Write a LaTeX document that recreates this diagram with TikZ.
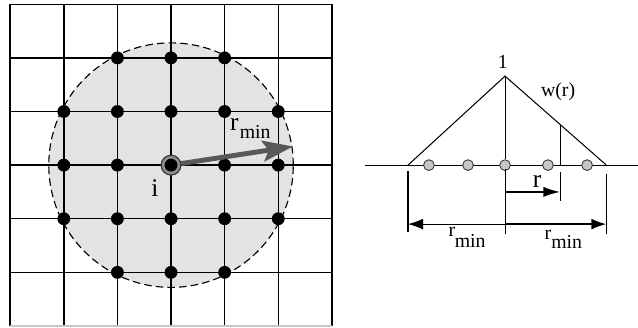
\documentclass[tikz,border=0pt]{standalone}
\usepackage{fontspec}
\setmainfont{Liberation Serif}
\usetikzlibrary{arrows.meta,calc}
\tikzset{
	gridline/.style={line width=0.8pt},
	sample/.style={circle, fill=black, inner sep=0pt, minimum size=0.24cm},
	weight/.style={circle, draw=black!75, fill=black!22, line width=0.5pt, inner sep=0pt, minimum size=0.2cm},
	dimline/.style={line width=0.55pt},
	lbl/.style={inner sep=0pt, font=\fontsize{10.5}{12}\selectfont},
	biglbl/.style={inner sep=0pt, font=\fontsize{13.5}{15}\selectfont},
}
\begin{document}
\begin{tikzpicture}
		\useasboundingbox (-3.19,-3.02) rectangle (8.71,3.08);
		
		% Einflussbereich
		\fill[black!11] (0,0) circle (2.28);
		
		% Gitter
		\foreach \x in {-3,...,3}
		\draw[gridline] (\x,-3) -- (\x,3);
		\foreach \y in {-2,...,3}
		\draw[gridline] (-3,\y) -- (3,\y);
		\draw[gridline, black!22] (-3,-3) -- (3,-3);
		\draw[dashed, dash pattern=on 4pt off 2.2pt, line width=0.6pt] (0,0) circle (2.28);
		
		% Nachbarpunkte
		\foreach \i in {-2,...,2}
		\foreach \j in {-2,...,2}
		{
			\ifnum\numexpr\i*\i+\j*\j\relax<6
			\ifnum\numexpr\i*\i+\j*\j\relax>0
			\node[sample] (p\i\j) at (\i,\j) {};
			\fi\fi
		}
		
		% Punkt i
		\node[circle, draw=black!80, fill=black!45, line width=0.6pt, inner sep=0pt, minimum size=0.37cm] (ci) at (0,0) {};
		\node[sample] at (ci) {};
		\node[biglbl, anchor=base] (il) at (-0.30,-0.58) {i};
		
		% Radius
		\coordinate (rtip) at (8.7:2.30);
		\draw[line width=2.6pt, black!65, -{Stealth[length=16pt, width=11pt, inset=3pt]}] (ci) -- (rtip);
		\node[biglbl, anchor=base] (rl) at (1.18,0.65) {r};
		\node[lbl, anchor=base] (ml) at (1.57,0.49) {min};
		
		% Gewichtsfunktion
		\coordinate (bl) at (3.62,0);
		\coordinate (br) at (8.71,0);
		\coordinate (tl) at (4.42,0);
		\coordinate (top) at (6.23,1.66);
		\coordinate (tr) at (8.12,0);
		\coordinate (wr) at ($(top)!0.545!(tr)$);
		\draw[dimline] (bl) -- (br);
		\draw[dimline] (tl) -- (top) -- (tr);
		\draw[dimline] (wr) -- (wr |- tl);
		\foreach \x [count=\k] in {4.81,5.54,6.23,7.03,7.76}
		\node[weight] (w\k) at (\x,0) {};
		\draw[dimline] (top) -- (w3);
		\node[lbl] (one) at (6.19,1.92) {1};
		\node[lbl] (wl) at (7.22,1.36) {w(r)};
		
		% Bemaßung
		\draw[dimline] (4.42,-0.11) -- (4.42,-1.25);
		\draw[dimline] (6.23,-0.07) -- (6.23,-1.29);
		\draw[dimline] (7.26,-0.13) -- (7.26,-0.67);
		\draw[dimline] (8.12,-0.17) -- (8.12,-1.29);
		\coordinate (c0) at (6.23,-0.50);
		\coordinate (c1) at (7.26,-0.50);
		\draw[line width=1.1pt, -{Latex[length=9pt, width=5.5pt]}] (c0) -- (c1);
		\node[biglbl, anchor=base] (rr) at (6.83,-0.41) {r};
		\coordinate (d0) at (6.23,-1.10);
		\coordinate (dl) at (4.42,-1.10);
		\coordinate (dr) at (8.12,-1.10);
		\draw[line width=0.6pt, -{Latex[length=8pt, width=5.8pt]}] (d0) -- (dl);
		\draw[line width=0.9pt, -{Latex[length=8pt, width=5.8pt]}] (d0) -- (dr);
		\node[lbl, anchor=base] (rl1) at (5.24,-1.34) {r};
		\node[lbl, anchor=base] (ml1) at (5.58,-1.53) {min};
		\node[lbl, anchor=base] (rl2) at (7.03,-1.38) {r};
		\node[lbl, anchor=base] (ml2) at (7.38,-1.55) {min};
	\end{tikzpicture}
\end{document}
